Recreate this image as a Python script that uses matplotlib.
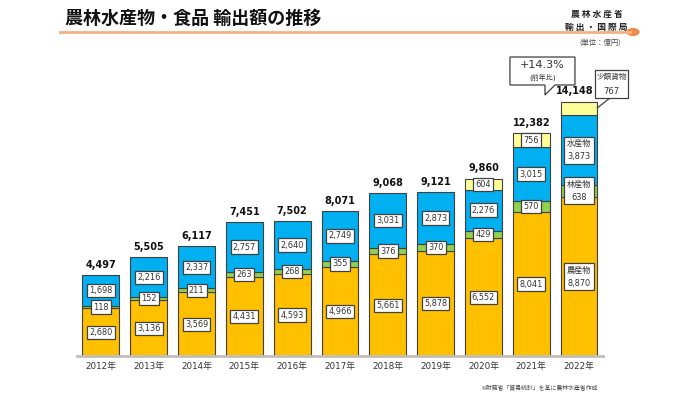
import matplotlib
matplotlib.use('Agg')
import matplotlib.pyplot as plt
from matplotlib.patches import Rectangle, Polygon
import numpy as np

plt.rcParams['font.family'] = ['DejaVu Sans', 'Noto Sans CJK JP']

# data (億円)
years = ['2012年', '2013年', '2014年', '2015年', '2016年', '2017年',
         '2018年', '2019年', '2020年', '2021年', '2022年']
agri = [2680, 3136, 3569, 4431, 4593, 4966, 5661, 5878, 6552, 8041, 8870]
forest = [118, 152, 211, 263, 268, 355, 376, 370, 429, 570, 638]
fish = [1698, 2216, 2337, 2757, 2640, 2749, 3031, 2873, 2276, 3015, 3873]
small = [0, 0, 0, 0, 0, 0, 0, 0, 604, 756, 767]
totals = [4497, 5505, 6117, 7451, 7502, 8071, 9068, 9121, 9860, 12382, 14148]
growth = '+14.3%'

c_agri = '#FFC000'
c_forest = '#92D050'
c_fish = '#00B0F0'
c_small = '#FFFF99'
edge = '#404040'
txt = '#333333'

fig = plt.figure(figsize=(7, 3.93), dpi=100)
ax = fig.add_axes([0.11, 0.0929, 0.7514, 0.7336])

x = np.arange(len(years))
w = 0.77
agri = np.array(agri)
forest = np.array(forest)
fish = np.array(fish)
small = np.array(small)

ax.bar(x, agri, w, color=c_agri, edgecolor=edge, lw=0.8, zorder=2)
ax.bar(x, forest, w, bottom=agri, color=c_forest, edgecolor=edge, lw=0.8, zorder=2)
ax.bar(x, fish, w, bottom=agri + forest, color=c_fish, edgecolor=edge, lw=0.8, zorder=2)
has_small = small > 0
ax.bar(x[has_small], small[has_small], w, bottom=(agri + forest + fish)[has_small],
       color=c_small, edgecolor=edge, lw=0.8, zorder=2)


def seg_label(xi, bottom, h, s, fs=5.9, pad=0.27):
    ax.text(xi, bottom + h / 2, s, ha='center', va='center', fontsize=fs,
            color=txt, zorder=4, linespacing=1.6,
            bbox=dict(boxstyle='square,pad=%s' % pad, fc='white', ec=edge, lw=0.9))


last = len(years) - 1
for i in range(len(years)):
    if i == last:
        seg_label(i, 0, agri[i], '農産物\n{:,}'.format(agri[i]), 5.9, 0.3)
        seg_label(i, agri[i], forest[i], '林産物\n{:,}'.format(forest[i]), 5.9, 0.3)
        seg_label(i, agri[i] + forest[i], fish[i], '水産物\n{:,}'.format(fish[i]), 5.9, 0.3)
        dx = -3
    else:
        seg_label(i, 0, agri[i], '{:,}'.format(agri[i]))
        seg_label(i, agri[i], forest[i], '{:,}'.format(forest[i]))
        seg_label(i, agri[i] + forest[i], fish[i], '{:,}'.format(fish[i]))
        if small[i] > 0:
            seg_label(i, agri[i] + forest[i] + fish[i], small[i], '{:,}'.format(small[i]))
        dx = 0
    ax.annotate('{:,}'.format(totals[i]), (i, totals[i]), xytext=(dx, 4),
                textcoords='offset points', ha='center', va='bottom',
                fontsize=7, fontweight='bold', color='#111111')

# callout for small goods of last year
top_last = agri[last] + forest[last] + fish[last]
ax.plot([last + 0.646, last + w / 2], [14345, top_last + small[last] * 0.55],
        color=edge, lw=0.9, clip_on=False, zorder=5)
ax.add_patch(Rectangle((last + 0.332, 14345), 0.69, 1555, fc='white', ec=edge,
                       lw=0.9, clip_on=False, zorder=5))
ax.text(last + 0.677, 15560, '少額貨物', ha='center', va='center', fontsize=5.5,
        color=txt, zorder=6, clip_on=False)
ax.text(last + 0.677, 14700, '{:,}'.format(small[last]), ha='center', va='center',
        fontsize=6, color=txt, zorder=6, clip_on=False)

# growth bubble
ax.add_patch(Polygon([(last - 1.446, 15067), (last - 1.446, 16620), (last - 0.086, 16620),
                      (last - 0.086, 15067), (last - 0.504, 15067), (last - 0.713, 14512),
                      (last - 0.713, 15067)], closed=True, fc='white', ec=edge, lw=0.9,
                     clip_on=False, zorder=5))
ax.text(last - 0.765, 16176, growth, ha='center', va='center', fontsize=8,
        color=txt, zorder=6, clip_on=False)
ax.text(last - 0.765, 15500, '(前年比)', ha='center', va='center', fontsize=5,
        color=txt, zorder=6, clip_on=False)

ax.set_xlim(-0.5, 10.5)
ax.set_ylim(0, 16000)
ax.set_xticks(x)
ax.set_xticklabels(years, fontsize=6.3, color=txt)
ax.tick_params(axis='x', length=0, pad=4.2)
ax.set_yticks([])
for s in ['top', 'right', 'left']:
    ax.spines[s].set_visible(False)
ax.spines['bottom'].set_color('#BFBFBF')
ax.spines['bottom'].set_linewidth(2)

# header
fig.text(65 / 700, 1 - 18 / 393, '農林水産物・食品 輸出額の推移', fontsize=13,
         fontweight='bold', family='Noto Sans CJK JP', ha='left', va='center',
         color='#111111')
fig.add_artist(plt.Line2D([60 / 700, 630 / 700], [1 - 32 / 393, 1 - 32 / 393],
                          color='#F4B183', lw=2))
fig.add_artist(plt.Circle((633 / 700, 1 - 32 / 393), 0.0085, color='#F08A4B',
                          transform=fig.transFigure))
fig.text(597 / 700, 1 - 14 / 393, '農 林 水 産 省', fontsize=6.3, fontweight='bold',
         family='Noto Sans CJK JP', ha='center', va='center', color='#222222')
fig.text(596 / 700, 1 - 27 / 393, '輸 出 ・ 国 際 局', fontsize=6.3, fontweight='bold',
         family='Noto Sans CJK JP', ha='center', va='center', color='#222222')
fig.text(600 / 700, 1 - 43 / 393, '(単位：億円)', fontsize=5.3,
         family='Noto Sans CJK JP', ha='center', va='center', color='#444444')
fig.text(539 / 700, 1 - 388 / 393, '※財務省「貿易統計」を基に農林水産省作成', fontsize=4.2,
         family='Noto Sans CJK JP', ha='center', va='center', color='#444444')

fig.savefig('out.png', dpi=100)
